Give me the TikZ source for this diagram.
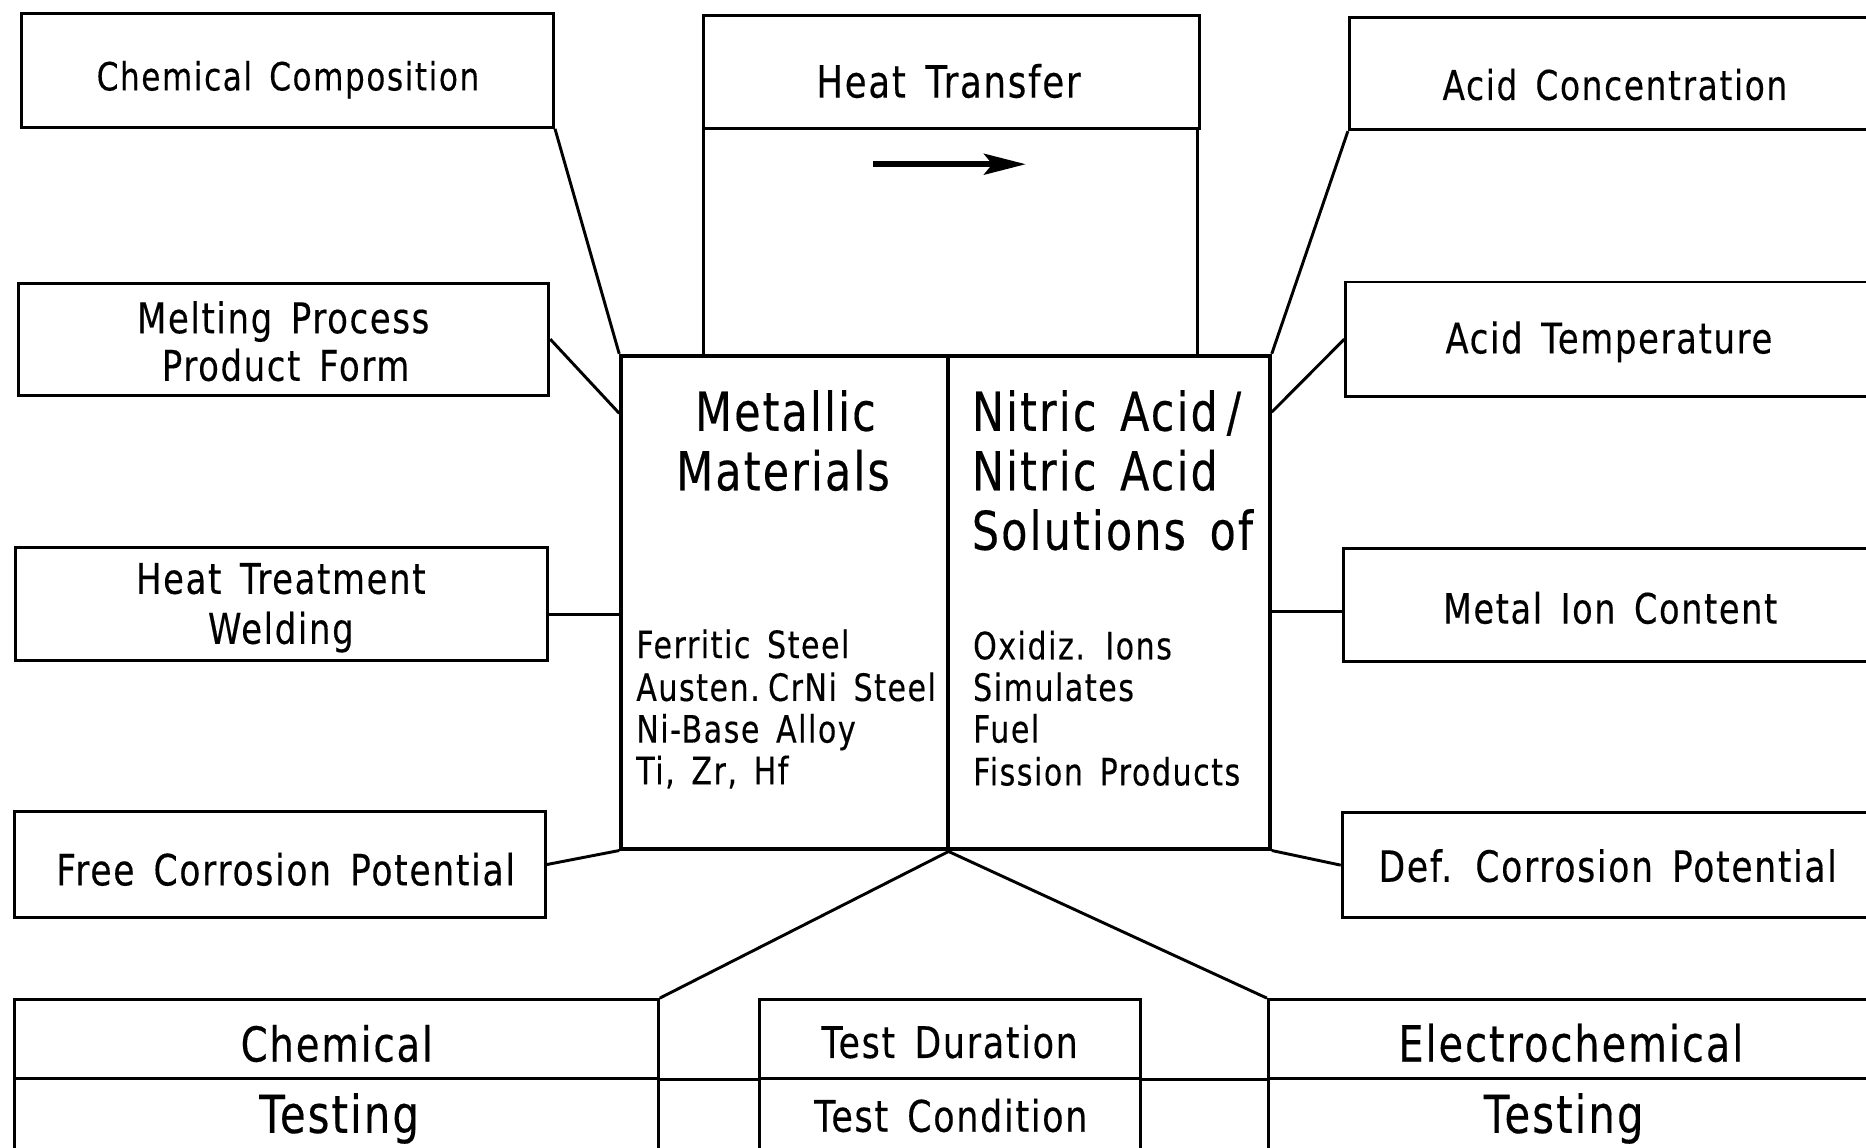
\documentclass[tikz,border=0pt]{standalone}
\usepackage{fontspec}
\setmainfont[FakeStretch=0.8,LetterSpace=4,WordSpace=1.5,FakeBold=0.3]{DejaVu Sans}
\usetikzlibrary{arrows.meta}
\begin{document}
\begin{tikzpicture}[x=0.01cm,y=-0.01cm,
  bx/.style={draw,line width=0.7pt,inner sep=0pt},
  lbl/.style={inner sep=0pt,anchor=base,font=\fontsize{#1}{#1}\selectfont},
  corebox/.style={draw,line width=0.9pt,inner sep=0pt,minimum width=#1,minimum height=4.14cm},
  bigtxt/.style={inner sep=0pt,anchor=base,font=\fontsize{12.8}{15}\selectfont},
  bigleft/.style={inner sep=0pt,anchor=base west,font=\fontsize{12.8}{15}\selectfont},
  listtxt/.style={inner sep=0pt,anchor=base west,font=\fontsize{9}{11}\selectfont},
  link/.style={line width=0.7pt}]
\clip (0,0) rectangle (1568,964);
\fill[white] (0,0) rectangle (1568,964);

% left boxes
\node[bx,minimum width=4.47cm,minimum height=0.96cm] (cc) at (241.5,59) {};
\node[lbl=9.3] (cct) at (242,76) {Chemical Composition};
\node[bx,minimum width=4.45cm,minimum height=0.94cm] (mp) at (238.5,285) {};
\node[lbl=10.1] (mpt1) at (238,280) {Melting Process};
\node[lbl=10.1] (mpt2) at (240,320) {Product Form};
\node[bx,minimum width=4.47cm,minimum height=0.95cm] (ht) at (236.5,507.5) {};
\node[lbl=10.1] (htt1) at (236,499) {Heat Treatment};
\node[lbl=10.1] (htt2) at (236,541) {Welding};
\node[bx,minimum width=4.46cm,minimum height=0.89cm] (fc) at (235,726.5) {};
\node[lbl=10.3] (fct) at (240,744) {Free Corrosion Potential};

% right boxes
\node[bx,minimum width=4.46cm,minimum height=0.94cm] (ac) at (1357,62) {};
\node[lbl=9.8] (act) at (1357,84) {Acid Concentration};
\node[bx,minimum width=4.44cm,minimum height=0.96cm] (at) at (1353,285) {};
\node[lbl=10.1] (att) at (1352,297) {Acid Temperature};
\node[bx,minimum width=4.48cm,minimum height=0.95cm] (mi) at (1353,508.5) {};
\node[lbl=10] (mit) at (1353,524) {Metal Ion Content};
\node[bx,minimum width=4.46cm,minimum height=0.88cm] (dc) at (1351,727) {};
\node[lbl=10.3] (dct) at (1351,741) {Def. Corrosion Potential};

% heat transfer
\node[bx,minimum width=4.17cm,minimum height=0.95cm] (htr) at (799.5,60.5) {};
\node[lbl=10.6] (htrt) at (797,82) {Heat Transfer};
\node[bx,minimum width=4.15cm,minimum height=1.91cm] (htl) at (798.5,203.5) {};
\coordinate (a1) at (734,138);
\coordinate (a2) at (862,138);
\draw[line width=1.3pt,-{Stealth[length=10pt,width=5pt,inset=2pt]}] (a1) -- (a2);

% core
\node[corebox=2.75cm] (mm) at (659.5,506) {};
\node[corebox=2.70cm] (na) at (932,506) {};
\node[bigtxt] (m1) at (660,362) {Metallic};
\node[bigtxt] (m2) at (658,412) {Materials};
\node[bigleft] (n1) at (816,362) {Nitric Acid\,/};
\node[bigleft] (n2) at (816,412) {Nitric Acid};
\node[bigleft] (n3) at (816,462) {Solutions of};
\node[listtxt] (l1) at (534,553) {Ferritic Steel};
\node[listtxt] (l2) at (534,589) {Austen.\hspace{0.22em}CrNi Steel};
\node[listtxt] (l3) at (534,624) {Ni-Base Alloy};
\node[listtxt] (l4) at (534,659) {Ti, Zr, Hf};
\node[listtxt] (r1) at (817,554) {Oxidiz. Ions};
\node[listtxt] (r2) at (817,589) {Simulates};
\node[listtxt] (r3) at (817,624) {Fuel};
\node[listtxt] (r4) at (817,660) {Fission Products};

% bottom boxes
\node[bx,minimum width=5.41cm,minimum height=0.66cm] (ct1) at (282.5,873) {};
\node[bx,minimum width=5.41cm,minimum height=0.62cm] (ct2) at (282.5,937) {};
\node[bx,minimum width=3.20cm,minimum height=0.66cm] (td1) at (798,873) {};
\node[bx,minimum width=3.20cm,minimum height=0.62cm] (td2) at (798,937) {};
\node[bx,minimum width=5.08cm,minimum height=0.66cm] (ec1) at (1320,873) {};
\node[bx,minimum width=5.08cm,minimum height=0.62cm] (ec2) at (1320,937) {};
\node[lbl=11.5] (ct1t) at (283,892) {Chemical};
\node[lbl=12.5] (ct2t) at (285,952) {Testing};
\node[lbl=10.4] (td1t) at (798,889) {Test Duration};
\node[lbl=10.4] (td2t) at (799,951) {Test Condition};
\node[lbl=11.9] (ec1t) at (1320,892) {Electrochemical};
\node[lbl=12.5] (ec2t) at (1314,952) {Testing};
\draw[link] (ct1.south east) -- (td1.south west);
\draw[link] (td1.south east) -- (ec1.south west);

% connectors
\draw[link] (cc.south east) -- (mm.north west);
\draw[link] (mp.east) -- ([yshift=-0.5cm]mm.north west);
\draw[link] ([yshift=-0.085cm]ht.east) -- ([yshift=-0.085cm]mm.west |- ht.east);
\draw[link] (fc.east) -- (mm.south west);
\draw[link] (ac.south west) -- (na.north east);
\draw[link] (at.west) -- ([yshift=-0.49cm]na.north east);
\draw[link] ([yshift=-0.055cm]mi.west) -- ([yshift=-0.055cm]na.east |- mi.west);
\draw[link] (dc.west) -- (na.south east);
\draw[link] (mm.south east) -- (ct1.north east);
\draw[link] (na.south west) -- (ec1.north west);
\end{tikzpicture}
\end{document}
